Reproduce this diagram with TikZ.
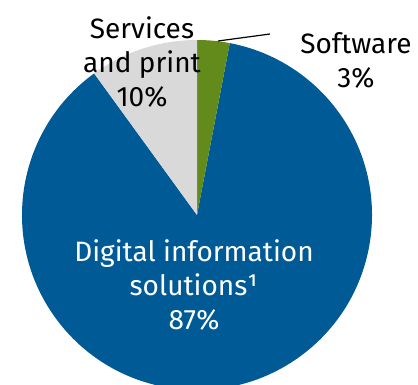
\documentclass[tikz,border=0pt]{standalone}
\usepackage{fontspec}
\setmainfont{Fira Sans}
\definecolor{dblue}{RGB}{0,90,150}
\definecolor{dgreen}{RGB}{98,139,27}
\definecolor{lgray}{RGB}{217,217,217}
\begin{document}
\begin{tikzpicture}[x=1pt,y=1pt,
  lbl/.style={align=center,anchor=base,inner sep=0pt,font=\fontsize{28}{34}\selectfont}]
\useasboundingbox (0,0) rectangle (418,-385);
\clip (0,0) rectangle (418,-385);
\coordinate (c) at (197,-215);
\fill[dblue] (c) -- ++(126:175) arc[start angle=126,end angle=439.2,radius=175] -- cycle;
\fill[dgreen] (c) -- ++(90:175) arc[start angle=90,end angle=79.2,radius=175] -- cycle;
\fill[lgray] (c) -- ++(90:175) arc[start angle=90,end angle=126,radius=175] -- cycle;
\node[lbl] (serv) at (142,-107) {Services\\and print\\10\%};
\node[lbl] (soft) at (356,-88) {Software\\3\%};
\node[lbl,text=white] (dig) at (194,-329) {Digital information\\solutions¹\\87\%};
\coordinate (l1) at (218,-41);
\coordinate (l2) at (270,-34);
\draw[line width=1.2pt] (l1) -- (l2);
\end{tikzpicture}
\end{document}
